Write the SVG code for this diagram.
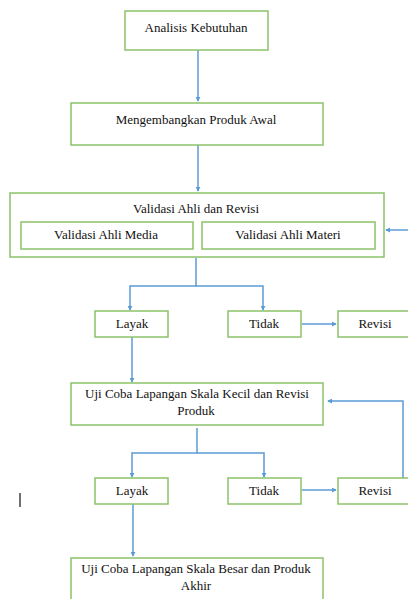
<svg xmlns="http://www.w3.org/2000/svg" width="408" height="599" viewBox="0 0 408 599">
<style>
.box{fill:#fff;stroke:#8DC26A;stroke-width:1.5}
text{font-family:'Liberation Serif','Times New Roman',Times,serif;font-size:13px;fill:#111;text-anchor:middle}
.c{fill:none;stroke:#5B9BD5;stroke-width:1.5}
</style>
<defs>
<marker id="ah" viewBox="0 0 6 6" refX="5" refY="3" markerWidth="5" markerHeight="5" orient="auto" markerUnits="userSpaceOnUse">
<path d="M0,0 L6,3 L0,6 z" fill="#5B9BD5"/>
</marker>
</defs>
<rect width="408" height="599" fill="#fff"/>
<g id="connectors">
<path class="c" d="M198,50 V101" marker-end="url(#ah)"/>
<path class="c" d="M198,145 V191" marker-end="url(#ah)"/>
<path class="c" d="M408,230 H386" marker-end="url(#ah)"/>
<path class="c" d="M196,258 V286 H130 V310" marker-end="url(#ah)"/>
<path class="c" d="M196,286 H263 V310" marker-end="url(#ah)"/>
<path class="c" d="M302,324 H336" marker-end="url(#ah)"/>
<path class="c" d="M132,337 V382" marker-end="url(#ah)"/>
<path class="c" d="M403,478 V401 H328" marker-end="url(#ah)"/>
<path class="c" d="M197,428 V453 H132 V477" marker-end="url(#ah)"/>
<path class="c" d="M197,453 H264 V477" marker-end="url(#ah)"/>
<path class="c" d="M302,490 H336" marker-end="url(#ah)"/>
<path class="c" d="M133,504 V556" marker-end="url(#ah)"/>
</g>
<g id="n1"><rect class="box" x="125" y="11" width="143" height="39"/><text font-family="Liberation Serif, serif" x="196" y="32">Analisis Kebutuhan</text></g>
<g id="n2"><rect class="box" x="71" y="103" width="252" height="42"/><text x="196" y="124">Mengembangkan Produk Awal</text></g>
<g id="n3"><rect class="box" x="10" y="193" width="374" height="64"/><text x="196" y="213">Validasi Ahli dan Revisi</text>
<g id="n3a"><rect class="box" x="21" y="222" width="172" height="27"/><text x="106" y="239">Validasi Ahli Media</text></g>
<g id="n3b"><rect class="box" x="202" y="222" width="173" height="27"/><text x="288" y="239">Validasi Ahli Materi</text></g>
</g>
<g id="n4"><rect class="box" x="95" y="311" width="73" height="26"/><text x="132" y="328">Layak</text></g>
<g id="n5"><rect class="box" x="228" y="311" width="73" height="26"/><text x="264" y="328">Tidak</text></g>
<g id="n6"><rect class="box" x="338" y="311" width="74" height="26"/><text x="375" y="328">Revisi</text></g>
<g id="n7"><rect class="box" x="71" y="383" width="252" height="42"/><text x="197" y="398">Uji Coba Lapangan Skala Kecil dan Revisi</text><text x="196" y="415">Produk</text></g>
<g id="n8"><rect class="box" x="95" y="478" width="73" height="26"/><text x="132" y="495">Layak</text></g>
<g id="n9"><rect class="box" x="228" y="478" width="73" height="26"/><text x="264" y="495">Tidak</text></g>
<g id="n10"><rect class="box" x="338" y="478" width="74" height="26"/><text x="375" y="495">Revisi</text></g>
<g id="n11"><rect class="box" x="71" y="558" width="252" height="50"/><text x="196" y="573">Uji Coba Lapangan Skala Besar dan Produk</text><text x="196" y="590">Akhir</text></g>
<line x1="20" y1="493" x2="20" y2="507" stroke="#111" stroke-width="1.2"/>
</svg>
